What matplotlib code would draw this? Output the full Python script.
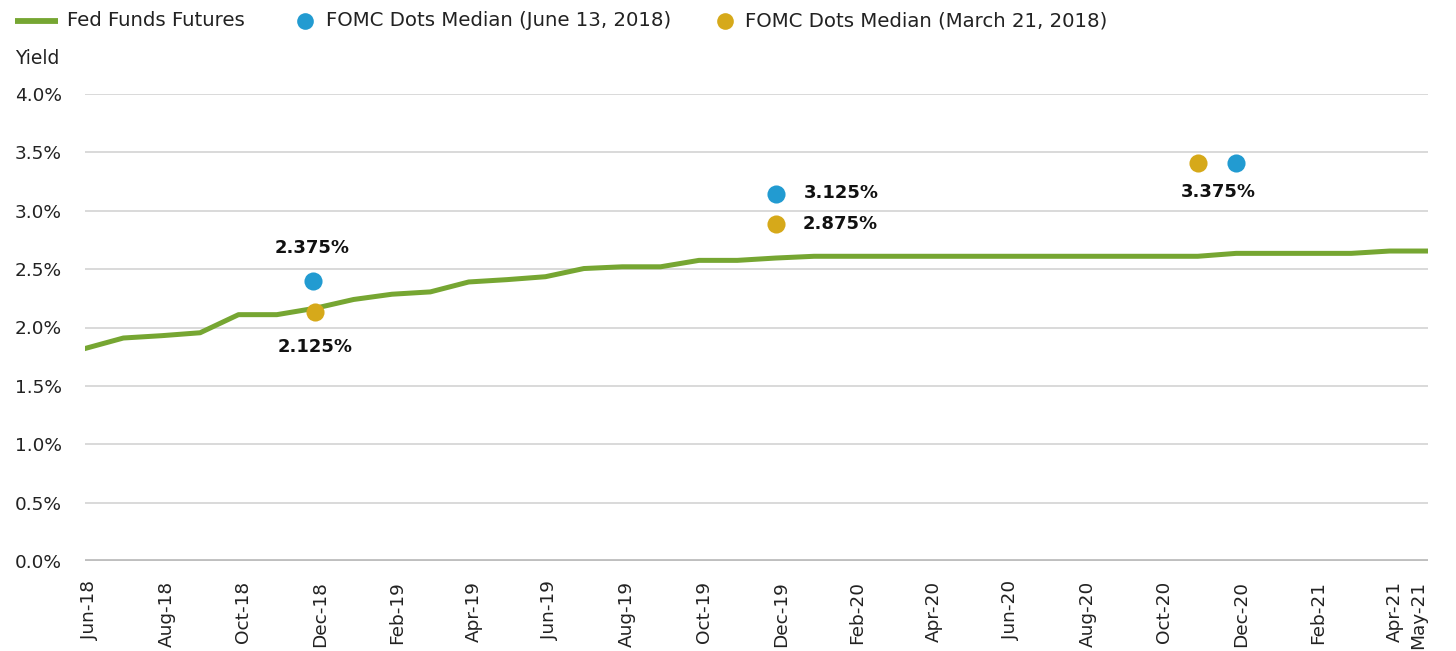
import matplotlib.pyplot as plt
from matplotlib.lines import Line2D
import matplotlib.transforms as mtransforms

plt.rcParams["font.family"] = ["DejaVu Sans"]

# Monthly fed funds futures implied yield (%), Jun-18 .. May-21
months = ["Jun-18", "Jul-18", "Aug-18", "Sep-18", "Oct-18", "Nov-18", "Dec-18",
          "Jan-19", "Feb-19", "Mar-19", "Apr-19", "May-19", "Jun-19", "Jul-19",
          "Aug-19", "Sep-19", "Oct-19", "Nov-19", "Dec-19", "Jan-20", "Feb-20",
          "Mar-20", "Apr-20", "May-20", "Jun-20", "Jul-20", "Aug-20", "Sep-20",
          "Oct-20", "Nov-20", "Dec-20", "Jan-21", "Feb-21", "Mar-21", "Apr-21",
          "May-21"]
futures = [1.82, 1.91, 1.93, 1.955, 2.11, 2.11, 2.165, 2.24, 2.285, 2.305,
           2.39, 2.41, 2.435, 2.505, 2.52, 2.52, 2.575, 2.575, 2.595, 2.61,
           2.61, 2.61, 2.61, 2.61, 2.61, 2.61, 2.61, 2.61, 2.61, 2.61,
           2.635, 2.635, 2.635, 2.635, 2.655, 2.655]

# FOMC dots medians (month index, plotted value)
june_x = [5.93, 18, 30]
june_y = [2.40, 3.14, 3.41]
march_x = [6, 18, 29]
march_y = [2.13, 2.89, 3.41]

green = "#76A632"
blue = "#229BD1"
gold = "#D6A91A"
txt = "#222222"

W, H = 1456, 651
fig = plt.figure(figsize=(W / 100, H / 100), dpi=100)
ax = fig.add_axes([85 / W, 1 - 561 / H, (1428 - 85) / W, (561 - 94) / H])

x = list(range(len(months)))
ax.plot(x, futures, color=green, lw=3.6, solid_joinstyle="round", zorder=3)
ax.scatter(june_x, june_y, s=170, color=blue, zorder=4, linewidths=0)
ax.scatter(march_x, march_y, s=170, color=gold, zorder=4, linewidths=0)

ax.set_xlim(0, 35)
ax.set_ylim(0, 4.0)
ax.set_yticks([0, 0.5, 1, 1.5, 2, 2.5, 3, 3.5, 4])
ax.set_yticklabels([f"{v:.1f}%" for v in ax.get_yticks()])
ticks = list(range(0, 35, 2))
ax.set_xticks(ticks + [34.6])
ax.set_xticklabels([months[i] for i in ticks] + [months[-1]], rotation=90)
ax.tick_params(axis="both", length=0, labelsize=13.3, colors=txt)
ax.tick_params(axis="y", pad=16.5)
ax.tick_params(axis="x", pad=14.5)
shift = mtransforms.ScaledTranslation(5 / 100, 0, fig.dpi_scale_trans)
for t in ax.get_xticklabels():
    t.set_transform(t.get_transform() + shift)
ax.grid(axis="y", color="#D0D0D0", lw=1.1)
ax.set_axisbelow(True)
for s in ax.spines.values():
    s.set_visible(False)
ax.axhline(0, color="#BFBFBF", lw=3.5, zorder=2)

# value labels
lbl = dict(fontsize=13, fontweight="bold", color="#111111", textcoords="offset pixels")
ax.annotate("2.375%", (june_x[0], june_y[0]), xytext=(0, 33), ha="center", va="center", **lbl)
ax.annotate("2.125%", (march_x[0], march_y[0]), xytext=(0, -35), ha="center", va="center", **lbl)
ax.annotate("3.125%", (june_x[1], june_y[1]), xytext=(28, 1), ha="left", va="center", **lbl)
ax.annotate("2.875%", (march_x[1], march_y[1]), xytext=(27, 0), ha="left", va="center", **lbl)
ax.annotate("3.375%", ((march_x[2] + june_x[2]) / 2, june_y[2]), xytext=(1, -29),
            ha="center", va="center", **lbl)

fig.text(15 / W, 1 - 58 / H, "Yield", fontsize=13.5, color=txt, ha="left", va="center")

# legend drawn in figure coordinates
ly = 1 - 21 / H
fig.add_artist(Line2D([15 / W, 58 / W], [ly, ly], color=green, lw=4.2,
                      solid_capstyle="butt", transform=fig.transFigure))
fig.text(67 / W, ly, "Fed Funds Futures", fontsize=14.2, color=txt, ha="left", va="center")
fig.add_artist(Line2D([305 / W], [ly], marker="o", markersize=12, color=blue,
                      markeredgewidth=0, transform=fig.transFigure))
fig.text(326 / W, ly, "FOMC Dots Median (June 13, 2018)", fontsize=14.2, color=txt,
         ha="left", va="center")
fig.add_artist(Line2D([725 / W], [ly], marker="o", markersize=12, color=gold,
                      markeredgewidth=0, transform=fig.transFigure))
fig.text(745 / W, ly, "FOMC Dots Median (March 21, 2018)", fontsize=14.2, color=txt,
         ha="left", va="center")

fig.savefig("out.png", dpi=100)
plt.close(fig)
